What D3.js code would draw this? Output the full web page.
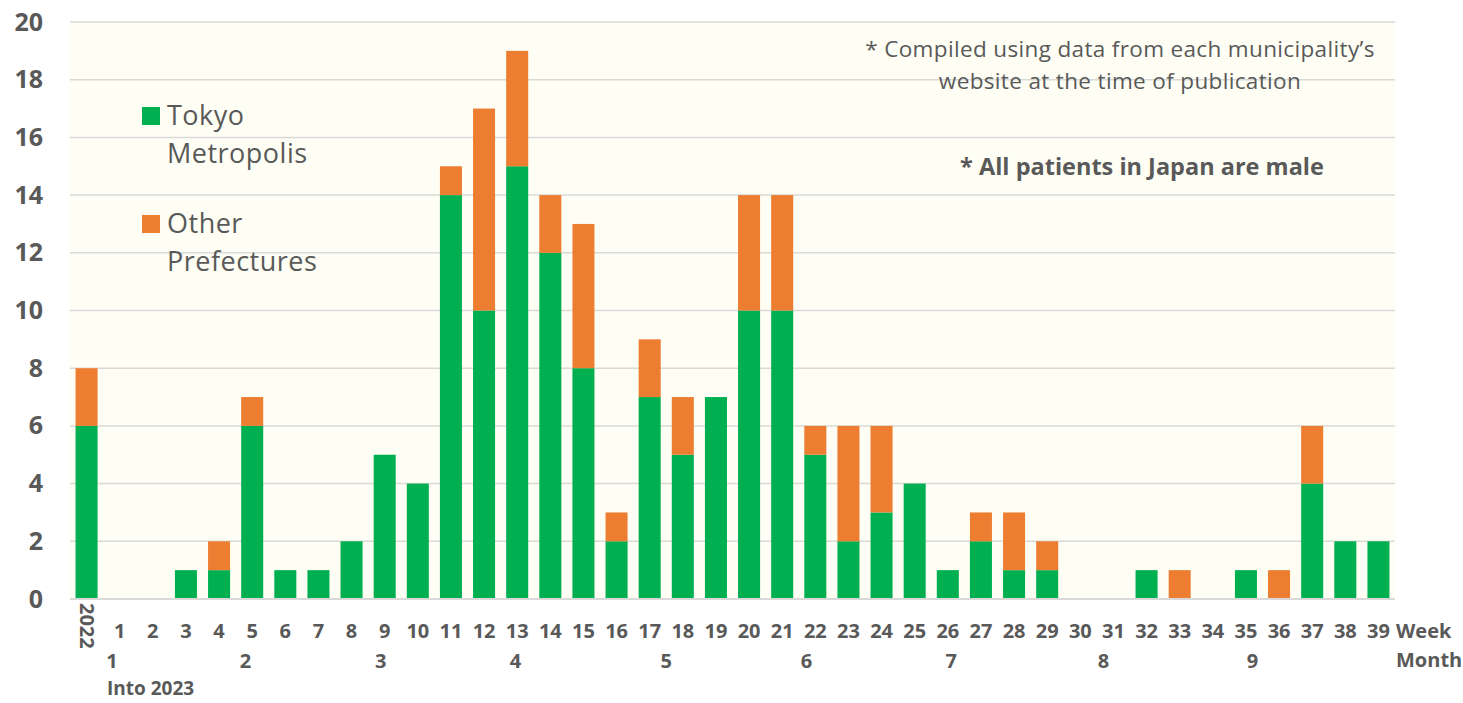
<!DOCTYPE html>
<html>
<head>
<meta charset="utf-8">
<script src="https://cdn.jsdelivr.net/npm/d3@7"></script>
<style>
  body { margin: 0; background: #fff; }
  svg text { font-family: "Open Sans", Lato, sans-serif; fill: #595959; }
</style>
</head>
<body>
<svg id="chart" width="1463" height="703"></svg>
<script>
// weeks of 2023 (first bar is the 2022 total)
var weeks = ["2022", "1", "2", "3", "4", "5", "6", "7", "8", "9", "10",
  "11", "12", "13", "14", "15", "16", "17", "18", "19", "20",
  "21", "22", "23", "24", "25", "26", "27", "28", "29", "30",
  "31", "32", "33", "34", "35", "36", "37", "38", "39"];
var tokyo = [6, 0, 0, 1, 1, 6, 1, 1, 2, 5, 4,
  14, 10, 15, 12, 8, 2, 7, 5, 7, 10,
  10, 5, 2, 3, 4, 1, 2, 1, 1, 0,
  0, 1, 0, 0, 1, 0, 4, 2, 2];
var other = [2, 0, 0, 0, 1, 1, 0, 0, 0, 0, 0,
  1, 7, 4, 2, 5, 1, 2, 2, 0, 4,
  4, 1, 4, 3, 0, 0, 1, 2, 1, 0,
  0, 0, 1, 0, 0, 1, 2, 0, 0];
// month labels, placed at (fractional) week index
var months = ["1", "2", "3", "4", "5", "6", "7", "8", "9"];
var monthAt = [0.77, 4.8, 8.88, 12.95, 17.5, 21.73, 26.1, 30.7, 35.2];
var yTicks = [0, 2, 4, 6, 8, 10, 12, 14, 16, 18, 20];
var seriesNames = ["Tokyo", "Other"];

var svg = d3.select("#chart");
var margin = {left: 70, right: 68, top: 22, bottom: 104};
var width = 1463 - margin.left - margin.right,
    height = 703 - margin.top - margin.bottom;

var green = "#00B050", orange = "#ED7D31";

var x = d3.scaleBand().domain(weeks).range([0, width]).paddingInner(0.335).paddingOuter(0.1675);
var y = d3.scaleLinear().domain([0, 20]).range([height, 0]);

var g = svg.append("g").attr("transform", "translate(" + margin.left + "," + margin.top + ")");

g.append("rect")
  .attr("width", width).attr("height", height)
  .attr("fill", "#FEFEF4");

// gridlines
g.append("g").selectAll("line")
  .data(yTicks.slice(1))
  .enter().append("line")
  .attr("x1", 0).attr("x2", width)
  .attr("y1", function (d) { return y(d); })
  .attr("y2", function (d) { return y(d); })
  .attr("stroke", "#D9D9D9").attr("stroke-width", 1.5);

// stacked bars
var rows = weeks.map(function (w, i) { return {week: w, Tokyo: tokyo[i], Other: other[i]}; });
var stack = d3.stack().keys(seriesNames)(rows);
var colors = {Tokyo: green, Other: orange};

g.append("g").selectAll("g")
  .data(stack)
  .enter().append("g")
  .attr("fill", function (d) { return colors[d.key]; })
  .selectAll("rect")
  .data(function (d) { return d; })
  .enter().append("rect")
  .filter(function (d) { return d[1] > d[0]; })
  .attr("x", function (d) { return x(d.data.week); })
  .attr("width", x.bandwidth())
  .attr("y", function (d) { return y(d[1]); })
  .attr("height", function (d) { return y(d[0]) - y(d[1]); });

// baseline
g.append("line")
  .attr("x1", 0).attr("x2", width)
  .attr("y1", y(0)).attr("y2", y(0))
  .attr("stroke", "#D9D9D9").attr("stroke-width", 2);

// y axis labels
var yAxis = d3.axisLeft(y).tickValues(yTicks).tickSize(0).tickPadding(27);
g.append("g").call(yAxis)
  .call(function (s) { s.select(".domain").remove(); })
  .selectAll("text")
  .attr("font-size", 25).attr("font-weight", "bold")
  .style("fill", "#595959").style("font-family", "'Open Sans', sans-serif");

// week labels
var weekLab = g.append("g").attr("font-weight", "bold").attr("font-size", 20);
weekLab.selectAll("text")
  .data(weeks)
  .enter().append("text")
  .attr("text-anchor", function (d) { return d == "2022" ? "start" : "middle"; })
  .attr("transform", function (d) {
    var cx = x(d) + x.bandwidth() / 2;
    if (d == "2022") return "translate(" + (cx - 7) + "," + (height + 4) + ") rotate(90)";
    return "translate(" + cx + "," + (height + 39) + ")";
  })
  .text(function (d) { return d; });

weekLab.append("text")
  .attr("x", width + 1).attr("y", height + 39)
  .text("Week");

// month labels
var step = x.step();
var x0 = x(weeks[0]) + x.bandwidth() / 2;
weekLab.selectAll(".month")
  .data(months)
  .enter().append("text")
  .attr("class", "month")
  .attr("text-anchor", "middle")
  .attr("x", function (d, i) { return x0 + monthAt[i] * step; })
  .attr("y", height + 69)
  .text(function (d) { return d; });

weekLab.append("text")
  .attr("x", width + 1).attr("y", height + 68)
  .text("Month");

weekLab.append("text")
  .attr("x", 37).attr("y", height + 96)
  .attr("font-size", 19)
  .text("Into 2023");

// legend
var legend = g.append("g");
var legendItems = [
  {color: green, lines: ["Tokyo", "Metropolis"], top: 85},
  {color: orange, lines: ["Other", "Prefectures"], top: 193}
];
legendItems.forEach(function (it) {
  legend.append("rect")
    .attr("x", 72).attr("y", it.top).attr("width", 18).attr("height", 18)
    .attr("fill", it.color);
  it.lines.forEach(function (l, j) {
    legend.append("text")
      .attr("x", 97).attr("y", it.top + 18 + j * 38)
      .attr("font-size", 27).attr("letter-spacing", 0.5)
      .text(l);
  });
});

// notes
g.append("text")
  .attr("x", 1120 - margin.left).attr("y", 57 - margin.top)
  .attr("text-anchor", "middle").attr("font-size", 22.5).attr("letter-spacing", 0.35)
  .text("* Compiled using data from each municipality\u2019s");
g.append("text")
  .attr("x", 1120 - margin.left).attr("y", 89 - margin.top)
  .attr("text-anchor", "middle").attr("font-size", 22.5).attr("letter-spacing", 0.35)
  .text("website at the time of publication");
g.append("text")
  .attr("x", 1142 - margin.left).attr("y", 175 - margin.top)
  .attr("text-anchor", "middle").attr("font-size", 23.5).attr("font-weight", "bold")
  .text("* All patients in Japan are male");
</script>
</body>
</html>
